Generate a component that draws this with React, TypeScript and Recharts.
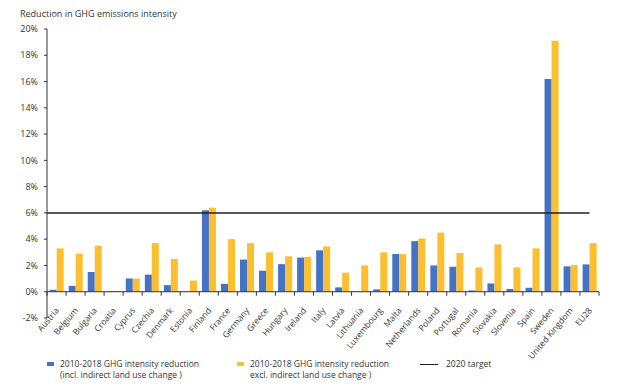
import { BarChart, Bar, XAxis, YAxis, ReferenceLine } from 'recharts';

const countries = [
  'Austria', 'Belgium', 'Bulgaria', 'Croatia', 'Cyprus', 'Czechia', 'Denmark',
  'Estonia', 'Finland', 'France', 'Germany', 'Greece', 'Hungary', 'Ireland',
  'Italy', 'Latvia', 'Lithuania', 'Luxembourg', 'Malta', 'Netherlands', 'Poland',
  'Portugal', 'Romania', 'Slovakia', 'Slovenia', 'Spain', 'Sweden',
  'United Kingdom', 'EU28',
];

// incl. indirect land use change
const inclIluc = [
  0.15, 0.45, 1.5, 0.03, 1.0, 1.3, 0.5, 0.02, 6.2, 0.6, 2.45, 1.6, 2.1, 2.6,
  3.15, 0.33, 0.02, 0.18, 2.87, 3.85, 2.0, 1.9, 0.1, 0.63, 0.2, 0.3, 16.2,
  1.93, 2.08,
];

// excl. indirect land use change
const exclIluc = [
  3.3, 2.9, 3.5, 0.05, 1.0, 3.7, 2.5, 0.85, 6.4, 4.0, 3.7, 3.0, 2.7, 2.65,
  3.45, 1.45, 2.0, 3.0, 2.87, 4.05, 4.5, 2.95, 1.85, 3.6, 1.85, 3.3, 19.1,
  2.03, 3.7,
];

const target = 6;
const yTicks = [-2, 0, 2, 4, 6, 8, 10, 12, 14, 16, 18, 20];

const seriesNames = [
  ['2010-2018 GHG intensity reduction', '(incl. indirect land use change )'],
  ['2010-2018 GHG intensity reduction', 'excl. indirect land use change )'],
];
const targetName = '2020 target';

const data = countries.map((c, i) => ({ name: c, incl: inclIluc[i], excl: exclIluc[i] }));

const BLUE = '#4472C4';
const YELLOW = '#FBBF2F';
const TEXT = '#333333';
const FONT = '"Open Sans", sans-serif';

const W = 630;
const H = 390;
const TOP = 29;
const LEFT = 47;
const RIGHT = 31;
const BOTTOM = 72;
const PLOT_H = H - TOP - BOTTOM;
const ZERO_Y = TOP + (PLOT_H * 20) / 22;
const BAND = (W - LEFT - RIGHT) / countries.length;

function XTick(props: any) {
  const { x, payload, index } = props;
  const tx = x + 3;
  const ty = ZERO_Y + 19;
  return (
    <g>
      <line x1={x - BAND / 2} x2={x - BAND / 2} y1={ZERO_Y} y2={ZERO_Y + 4} stroke={TEXT} />
      {index === countries.length - 1 && (
        <line x1={x + BAND / 2} x2={x + BAND / 2} y1={ZERO_Y} y2={ZERO_Y + 4} stroke={TEXT} />
      )}
      <text
        x={tx}
        y={ty}
        transform={`rotate(-50, ${tx}, ${ty})`}
        textAnchor="end"
        fontSize={8.5}
        fill={TEXT}
        fontFamily={FONT}
      >
        {payload.value}
      </text>
    </g>
  );
}

function TargetLine(props: any) {
  const { x1, x2, y1, y2 } = props;
  return <line x1={x1} x2={x2 - BAND / 2} y1={y1} y2={y2} stroke="#222" strokeWidth={1.5} />;
}

function LegendItem({ left, color, lines }: { left: number; color: string; lines: string[] }) {
  return (
    <div style={{ position: 'absolute', left, top: 359, fontSize: 8.5 }}>
      <span style={{ position: 'absolute', left: 0, top: 3, width: 7, height: 4, background: color }} />
      {lines.map((t, i) => (
        <div
          key={i}
          style={{ position: 'absolute', left: 13, top: i * 10.5, height: 10, lineHeight: '10px', whiteSpace: 'nowrap' }}
        >
          {t}
        </div>
      ))}
    </div>
  );
}

export default function App() {
  return (
    <div style={{ position: 'absolute', left: 0, top: 0, width: W, height: H, background: '#fff', fontFamily: FONT, color: TEXT }}>
      <div style={{ position: 'absolute', left: 20, top: 7, fontSize: 9 }}>
        Reduction in GHG emissions intensity
      </div>
      <BarChart
        width={W}
        height={H}
        data={data}
        margin={{ top: TOP, right: RIGHT, bottom: 0, left: 0 }}
        barCategoryGap="14%"
        barGap={0}
      >
        <XAxis
          dataKey="name"
          height={BOTTOM}
          interval={0}
          axisLine={false}
          tickLine={false}
          tick={<XTick />}
        />
        <YAxis
          width={LEFT}
          domain={[-2, 20]}
          ticks={yTicks}
          interval={0}
          tickFormatter={(v: number) => `${v}%`}
          axisLine={{ stroke: TEXT }}
          tickLine={{ stroke: TEXT }}
          tickSize={3}
          tickMargin={6}
          tick={{ fill: TEXT, fontSize: 9, fontFamily: FONT }}
        />
        <ReferenceLine y={0} stroke={TEXT} strokeWidth={1} />
        <Bar dataKey="incl" fill={BLUE} isAnimationActive={false} />
        <Bar dataKey="excl" fill={YELLOW} isAnimationActive={false} />
        <ReferenceLine y={target} shape={<TargetLine />} />
      </BarChart>
      <LegendItem left={47} color={BLUE} lines={seriesNames[0]} />
      <LegendItem left={237} color={YELLOW} lines={seriesNames[1]} />
      <div style={{ position: 'absolute', left: 420, top: 359, fontSize: 8.5 }}>
        <span style={{ position: 'absolute', left: 0, top: 4.5, width: 18, height: 1.5, background: '#222' }} />
        <div style={{ position: 'absolute', left: 26, top: 0, height: 10, lineHeight: '10px', whiteSpace: 'nowrap' }}>
          {targetName}
        </div>
      </div>
    </div>
  );
}
